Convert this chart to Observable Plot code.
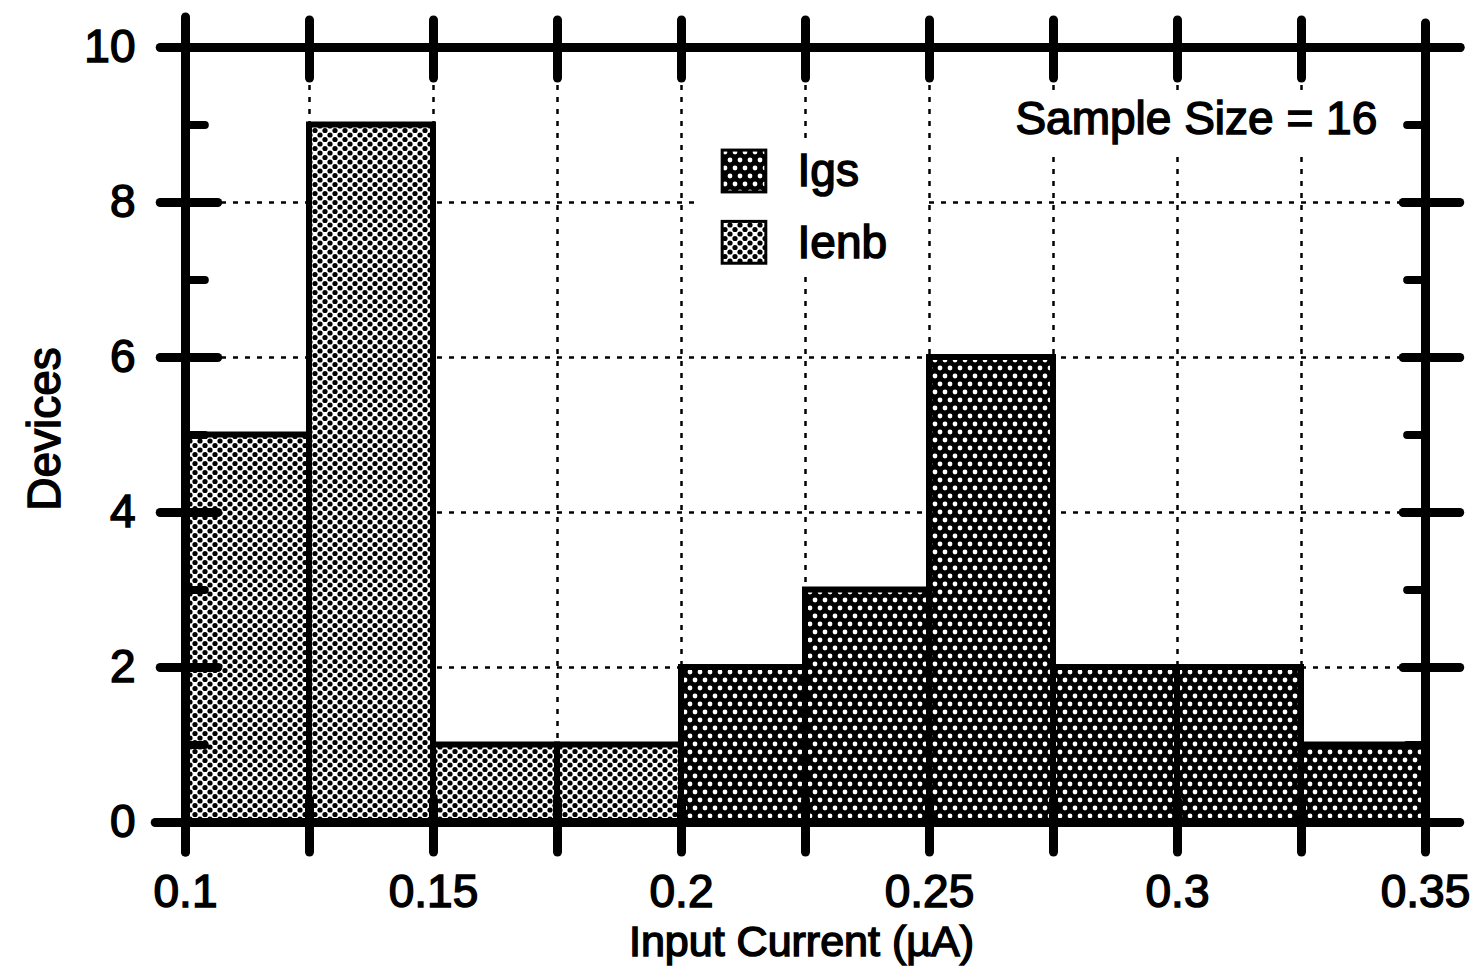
<!DOCTYPE html>
<html><head><meta charset="utf-8">
<script src="https://cdn.jsdelivr.net/npm/d3@7"></script>
<script src="https://cdn.jsdelivr.net/npm/@observablehq/plot@0.6"></script>
<style>
body{margin:0;background:#fff;}
svg{display:block}
svg text{stroke:#000;stroke-width:1.5px;}
</style>
</head><body><div id="chart"></div>
<script>
// ---- data ----
const ienbStarts = [0.1, 0.125, 0.15, 0.175];
const ienbCounts = [5, 9, 1, 1];
const igsStarts = [0.2, 0.225, 0.25, 0.275, 0.3, 0.325];
const igsCounts = [2, 3, 6, 2, 2, 1];
const binWidth = 0.025;
const seriesNames = ["Igs", "Ienb"];
const xTickValues = [0.1, 0.15, 0.2, 0.25, 0.3, 0.35];
const xTickLabels = ["0.1", "0.15", "0.2", "0.25", "0.3", "0.35"];
const xMinorValues = [0.125, 0.175, 0.225, 0.275, 0.325];
const yTickValues = [0, 2, 4, 6, 8, 10];
const yMinorValues = [1, 3, 5, 7, 9];
const sampleSize = 16;

// ---- derived tables ----
const bars = [
  ...ienbStarts.map((s, i) => ({x1: s, x2: s + binWidth, y: ienbCounts[i], series: "Ienb"})),
  ...igsStarts.map((s, i) => ({x1: s, x2: s + binWidth, y: igsCounts[i], series: "Igs"}))
];
const allX = [...xTickValues, ...xMinorValues].sort((a, b) => a - b);
const innerX = allX.filter(v => v > 0.1 && v < 0.35);
const gridY = yTickValues.filter(v => v > 0 && v < 10);
const legendRows = seriesNames.map((name, i) => ({name, yc: i === 0 ? 8.4 : 7.48}));

const ink = {stroke: "black", strokeLinecap: "round"};
const grid = {stroke: "black", strokeWidth: 2.5, strokeDasharray: "5,7"};

const svg = Plot.plot({
  width: 1473,
  height: 968,
  marginLeft: 185,
  marginRight: 48,
  marginTop: 47,
  marginBottom: 146,
  style: {fontFamily: "'Liberation Sans', Arial, sans-serif", fontSize: "46px", background: "white", overflow: "visible"},
  x: {domain: [0.1, 0.35]},
  y: {domain: [0, 10]},
  color: {domain: seriesNames, range: ["url(#pat-igs)", "url(#pat-ienb)"]},
  marks: [
    // dotted grid
    Plot.ruleX(innerX, {y1: 0, y2: 10, ...grid}),
    Plot.ruleY(gridY, {x1: 0.1, x2: 0.35, ...grid}),
    // white boxes behind legend and annotation
    Plot.rect([0], {x1: 0.2038, x2: 0.2492, y1: 7.1, y2: 8.8, fill: "white"}),
    Plot.rect([0], {x1: 0.2643, x2: 0.344, y1: 8.67, y2: 9.42, fill: "white"}),
    // bars
    Plot.rect(bars, {x1: "x1", x2: "x2", y1: 0, y2: "y", fill: "series", stroke: "black", strokeWidth: 6}),
    // frame
    Plot.ruleY([10], {x1: 0.096, x2: 0.3571, strokeWidth: 9, ...ink}),
    Plot.ruleY([0], {x1: 0.094, x2: 0.355, strokeWidth: 9, ...ink}),
    Plot.ruleX([0.1], {y1: -0.387, y2: 10.387, strokeWidth: 9, ...ink}),
    Plot.ruleX([0.35], {y1: -0.36, y2: 10.31, strokeWidth: 9, ...ink}),
    // top ticks
    Plot.ruleX(innerX, {y1: 9.6, y2: 10.35, strokeWidth: 9, ...ink}),
    // bottom ticks
    Plot.ruleX(allX, {y1: -0.387, y2: 0.284, strokeWidth: 9, ...ink}),
    // left ticks
    Plot.ruleY(yTickValues, {x1: 0.095, x2: 0.1066, strokeWidth: 9, ...ink}),
    Plot.ruleY(yMinorValues, {x1: 0.1, x2: 0.104, strokeWidth: 8, ...ink}),
    // right ticks
    Plot.ruleY(yTickValues, {x1: 0.3456, x2: 0.357, strokeWidth: 9, ...ink}),
    Plot.ruleY(yMinorValues, {x1: 0.3464, x2: 0.35, strokeWidth: 8, ...ink}),
    // axes
    Plot.axisX(xTickValues, {tickSize: 0, tickPadding: 52, label: null, fontSize: 46,
      tickFormat: d => xTickLabels[xTickValues.indexOf(d)]}),
    Plot.axisY(yTickValues, {tickSize: 0, tickPadding: 50, label: null, fontSize: 46, tickFormat: d => String(d)}),
    Plot.text(["Input Current (µA)"], {frameAnchor: "bottom", dy: 133, dx: -4, fontSize: 43}),
    Plot.text(["Devices"], {frameAnchor: "left", dx: -140, dy: -6, rotate: -90, textAnchor: "middle", fontSize: 46}),
    // legend
    Plot.rect(legendRows, {x1: 0.2083, x2: 0.2171, y1: d => d.yc - 0.27, y2: d => d.yc + 0.27,
      fill: d => d.name, stroke: "black", strokeWidth: 3}),
    Plot.text(legendRows, {x: 0.2234, y: "yc", text: "name", textAnchor: "start", fontSize: 46}),
    // annotation
    Plot.text([`Sample Size = ${sampleSize}`], {x: 0.3038, y: 9.08, fontSize: 46})
  ]
});

d3.select(svg).insert("defs", ":first-child").html(`
  <pattern id="pat-ienb" patternUnits="userSpaceOnUse" width="10" height="9">
    <rect width="10" height="9" fill="white"/>
    <circle cx="0" cy="0" r="2.6" fill="black"/>
    <circle cx="10" cy="0" r="2.6" fill="black"/>
    <circle cx="0" cy="9" r="2.6" fill="black"/>
    <circle cx="10" cy="9" r="2.6" fill="black"/>
    <circle cx="5" cy="4.5" r="2.6" fill="black"/>
  </pattern>
  <pattern id="pat-igs" patternUnits="userSpaceOnUse" width="10" height="16">
    <rect width="10" height="16" fill="black"/>
    <circle cx="0" cy="0" r="2.4" fill="white"/>
    <circle cx="10" cy="0" r="2.4" fill="white"/>
    <circle cx="0" cy="16" r="2.4" fill="white"/>
    <circle cx="10" cy="16" r="2.4" fill="white"/>
    <circle cx="5" cy="8" r="2.4" fill="white"/>
  </pattern>`);

document.getElementById("chart").appendChild(svg);
</script>
</body></html>
